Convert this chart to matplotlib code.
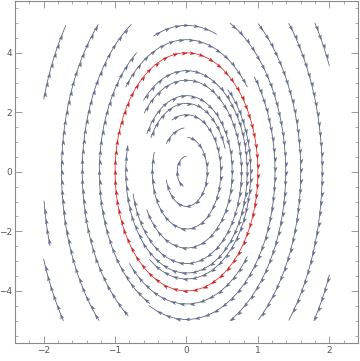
import numpy as np
import matplotlib
matplotlib.use('Agg')
import matplotlib.pyplot as plt
from matplotlib.path import Path
from matplotlib.markers import MarkerStyle
from matplotlib.transforms import Affine2D

# stream lines of x' = y, y' = -16 x  ->  x = r cos(t), y = 4 r sin(t)
# each line: radius r and the angles (deg) where it starts and stops (flow is clockwise)
gray_r = [0.13, 0.29, 0.37, 0.48, 0.575, 0.64, 0.77, 0.85, 0.90,
          1.11, 1.11, 1.22, 1.23, 1.24, 1.39, 1.46, 1.60, 1.75, 1.90,
          2.09, 2.01, 2.13, 2.19, 2.18]
gray_start = [250, 86, 140, 115, 150, 150, 140, 135, 50,
              140, -40, 245, 112, 40, 64, 236, 51, 226, 41,
              163, 198, 218, 35, -23]
gray_end = [92, -166, 95, -200, 20, -150, -166, -195, -125,
            40, -136, 125, 70, -115, -64, 122, -51, 135, -41,
            144, 187, 198, 24, -35]

red_r = [1.0]
red_start = [450]
red_end = [90]

x_ticks = [-2, -1, 0, 1, 2]
y_ticks = [-4, -2, 0, 2, 4]

fig = plt.figure(figsize=(3.6, 3.61), dpi=100)
ax = fig.add_axes([0.042, 0.05, 0.952, 0.948])
ax.set_xlim(-2.4, 2.4)
ax.set_ylim(-5.75, 5.75)

arrow = Path([(1.0, 0.0), (-1.0, 0.7), (-0.5, 0.0), (-1.0, -0.7), (1.0, 0.0)],
             [Path.MOVETO, Path.LINETO, Path.LINETO, Path.LINETO, Path.CLOSEPOLY])


def draw_stream(r, t0, t1, lc, ac):
    t = np.radians(np.linspace(t0, t1, 600))
    x = r * np.cos(t)
    y = 4 * r * np.sin(t)
    inside = (np.abs(x) <= 2.0) & (np.abs(y) <= 5.0)
    x, y = x[inside], y[inside]
    if len(x) < 2:
        return
    ax.plot(x, y, color=lc, lw=0.55, solid_capstyle='round')
    pts = ax.transData.transform(np.column_stack([x, y]))
    seg = np.hypot(*np.diff(pts, axis=0).T)
    s = np.concatenate([[0], np.cumsum(seg)])
    for si in np.arange(5, s[-1] - 2, 10.0):
        i = np.searchsorted(s, si)
        i = min(max(i, 1), len(x) - 1)
        d = pts[i] - pts[i - 1]
        ang = np.degrees(np.arctan2(d[1], d[0]))
        m = MarkerStyle(arrow, transform=Affine2D().rotate_deg(ang))
        ax.plot(x[i], y[i], marker=m, ms=3.3, color=ac, mec=ac, mew=0.2)


for r, a, b in zip(gray_r, gray_start, gray_end):
    draw_stream(r, a, b, '#555a68', '#5e6c92')
for r, a, b in zip(red_r, red_start, red_end):
    draw_stream(r, a, b, '#dd2a2a', '#cc1f1f')

ax.set_xticks(x_ticks)
ax.set_yticks(y_ticks)
ax.set_xticks(np.arange(-2.4, 2.41, 0.2), minor=True)
ax.set_yticks(np.arange(-5.5, 5.6, 0.5), minor=True)
ax.tick_params(which='both', direction='in', top=True, right=True,
               colors='#8a8a8a', labelcolor='#555555', labelsize=6.5, pad=2)
ax.tick_params(which='major', length=5, width=0.6)
ax.tick_params(which='minor', length=2.5, width=0.5)
for sp in ax.spines.values():
    sp.set_color('#8a8a8a')
    sp.set_linewidth(0.8)

fig.savefig('out.png', dpi=100)
